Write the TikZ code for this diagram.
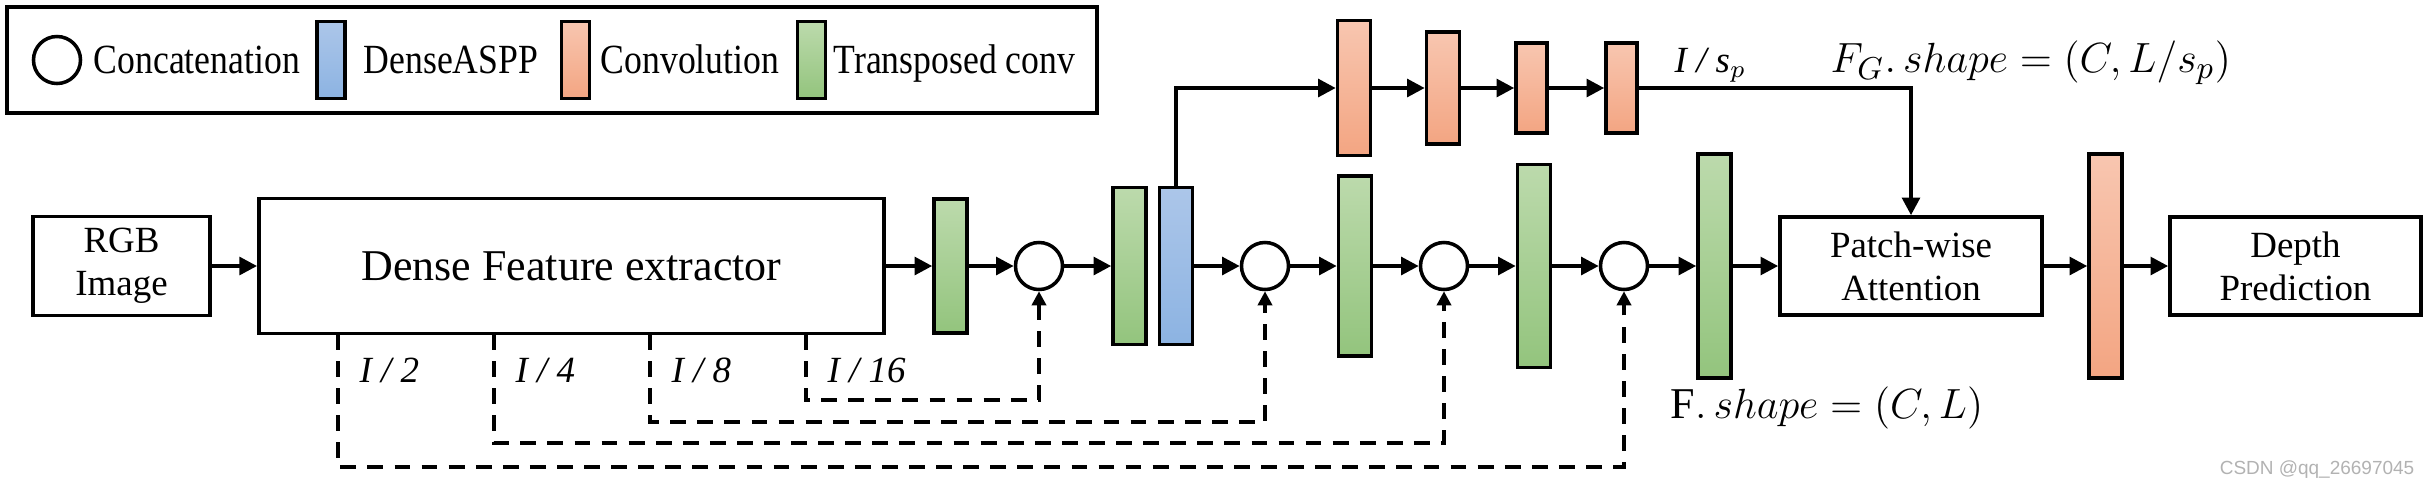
\documentclass[tikz,border=0pt]{standalone}
\usepackage{fontspec}
\setmainfont{Liberation Serif}
\setsansfont{Liberation Sans}
\newfontfamily\legfont[FakeStretch=0.86]{Liberation Serif}
\usetikzlibrary{arrows.meta,shadings}
\definecolor{gtop}{RGB}{188,218,172}
\definecolor{gbot}{RGB}{147,196,125}
\definecolor{otop}{RGB}{248,198,176}
\definecolor{obot}{RGB}{243,165,130}
\definecolor{btop}{RGB}{172,198,233}
\definecolor{bbot}{RGB}{140,179,226}
\tikzset{
  box/.style={draw, line width=1pt, inner sep=0pt, align=center, font=\fontsize{10.5}{12.2}\selectfont},
  bar/.style={draw, line width=1pt, inner sep=0pt, minimum width=0.33cm},
  gbar/.style={bar, top color=gtop, bottom color=gbot},
  obar/.style={bar, top color=otop, bottom color=obot},
  bbar/.style={bar, top color=btop, bottom color=bbot},
  lbar/.style={minimum width=0.28cm, minimum height=0.77cm},
  cat/.style={draw, circle, line width=1pt, minimum size=0.47cm, inner sep=0pt},
  leg/.style={anchor=base west, inner sep=0pt, font=\legfont\fontsize{11.8}{14}\selectfont},
  tap/.style={anchor=base west, inner sep=0pt, font=\fontsize{10.5}{12}\selectfont\itshape},
  eqn/.style={anchor=base west, inner sep=0pt, font=\fontsize{12.5}{15}\selectfont},
  flow/.style={line width=1.1pt, -{Triangle[length=5pt,width=5pt]}},
  skip/.style={line width=1pt, dash pattern=on 4.5pt off 3.2pt, -{Triangle[length=4pt,width=4pt]}}
}
\begin{document}
\begin{tikzpicture}[x=0.01cm,y=-0.01cm]
\useasboundingbox (0,0) rectangle (2430,490);
\draw[line width=1pt] (7,7) rectangle (1097,113);
\node[cat] (lc) at (57,60) {};
\node[leg] (lct) at (93,73) {Concatenation};
\node[bbar,lbar] (lb) at (331,60) {};
\node[leg] (lbt) at (363,73) {DenseASPP};
\node[obar,lbar] (lo) at (575.5,60) {};
\node[leg] (lot) at (600,73) {Convolution};
\node[gbar,lbar] (lg) at (811.5,60) {};
\node[leg] (lgt) at (833,73) {Transposed conv};

\node[box, minimum width=1.77cm, minimum height=0.99cm] (rgb) at (121.5,266) {RGB\\Image};
\node[box, minimum width=6.25cm, minimum height=1.35cm, font=\fontsize{12.5}{15}\selectfont] (fe) at (571.5,266) {Dense Feature extractor};
\node[gbar, minimum height=1.34cm] (g1) at (950.5,266) {};
\node[cat] (c1) at (1039,266) {};
\node[gbar, minimum height=1.57cm] (g2) at (1129.5,266) {};
\node[bbar, minimum height=1.57cm] (b1) at (1176,266) {};
\node[cat] (c2) at (1265,266) {};
\node[gbar, minimum height=1.80cm] (g3) at (1355,266) {};
\node[cat] (c3) at (1444,266) {};
\node[gbar, minimum height=2.03cm] (g4) at (1534,266) {};
\node[cat] (c4) at (1624,266) {};
\node[gbar, minimum height=2.24cm] (g5) at (1714.5,266) {};
\node[box, minimum width=2.62cm, minimum height=0.98cm] (pat) at (1911,266) {Patch-wise\\Attention};
\node[obar, minimum height=2.24cm] (o5) at (2105.5,266) {};
\node[box, minimum width=2.51cm, minimum height=0.98cm] (dp) at (2295.5,266) {Depth\\Prediction};

\node[obar, minimum height=1.35cm] (o1) at (1354,88) {};
\node[obar, minimum height=1.12cm] (o2) at (1443,88) {};
\node[obar, minimum height=0.90cm, minimum width=0.31cm] (o3) at (1531.5,88) {};
\node[obar, minimum height=0.90cm, minimum width=0.31cm] (o4) at (1621.5,88) {};

\draw[flow] (rgb) -- (fe);
\draw[flow] (fe) -- (g1);
\draw[flow] (g1) -- (c1);
\draw[flow] (c1) -- (g2);
\draw[flow] (b1) -- (c2);
\draw[flow] (c2) -- (g3);
\draw[flow] (g3) -- (c3);
\draw[flow] (c3) -- (g4);
\draw[flow] (g4) -- (c4);
\draw[flow] (c4) -- (g5);
\draw[flow] (g5) -- (pat);
\draw[flow] (pat) -- (o5);
\draw[flow] (o5) -- (dp);
\draw[flow] (b1.north) |- (o1);
\draw[flow] (o1) -- (o2);
\draw[flow] (o2) -- (o3);
\draw[flow] (o3) -- (o4);
\draw[flow] (o4) -| (pat);

\coordinate (t1) at (338,334);
\coordinate (t2) at (494,334);
\coordinate (t3) at (650,334);
\coordinate (t4) at (806,334);
\draw[skip] (t1) -- ++(0,133) -| (c4);
\draw[skip] (t2) -- ++(0,109) -| (c3);
\draw[skip] (t3) -- ++(0,88) -| (c2);
\draw[skip] (t4) -- ++(0,66) -| (c1);
\node[tap] (l1) at (359,382) {I / 2};
\node[tap] (l2) at (515,382) {I / 4};
\node[tap] (l3) at (671,382) {I / 8};
\node[tap] (l4) at (827,382) {I / 16};

\node[tap] (lsp) at (1674,72) {I / s$_p$};
\node[eqn] (fg) at (1830,72) {$F_G.\,shape=(C,L/s_p)$};
\node[eqn] (fs) at (1670,418) {$\mathrm{F}.\,shape=(C,L)$};
\node[anchor=base east, inner sep=0pt, font=\sffamily\fontsize{5.4}{7}\selectfont, text=gray!60] (wm) at (2415,474) {CSDN @qq\_26697045};
\end{tikzpicture}
\end{document}
